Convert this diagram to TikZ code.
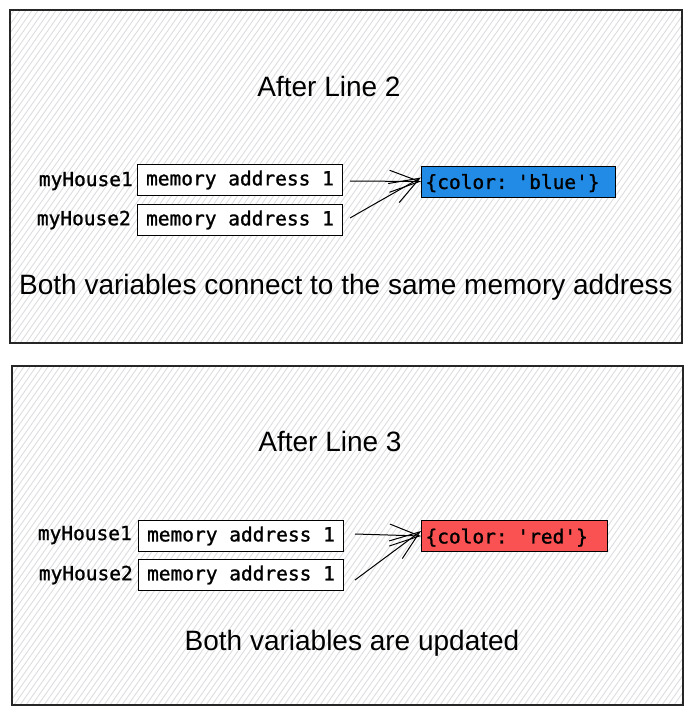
\documentclass[tikz,border=0pt]{standalone}
\usepackage{fontspec}
\setmainfont{Liberation Sans}
\newfontfamily\codefont{DejaVu Sans Mono}[FakeBold=1.2]
\usetikzlibrary{arrows.meta}
\definecolor{exblue}{HTML}{228BE6}
\definecolor{exred}{HTML}{FA5252}
\definecolor{hatch}{HTML}{DCDDE0}
\tikzset{
  panel/.style={draw=black!85, line width=1.2pt},
  membox/.style={draw=black, line width=1pt, fill=white, minimum width=205pt, minimum height=31pt, inner sep=0pt, font=\codefont\fontsize{19.5}{20}\selectfont},
  objbox/.style={draw=black, line width=1pt, minimum height=31pt, inner sep=0pt, font=\codefont\fontsize{19.5}{20}\selectfont, anchor=west, text depth=0pt},
  varlabel/.style={anchor=east, inner sep=0pt, font=\codefont\fontsize{19.5}{20}\selectfont},
  heading/.style={inner sep=0pt, font=\fontsize{28}{32}\selectfont},
  conn/.style={line width=1pt, -{Straight Barb[length=30pt, width=22pt, line width=1pt]}},
}
\begin{document}
\begin{tikzpicture}[x=1pt,y=-1pt]
\useasboundingbox (0,0) rectangle (693,712);
% hatched backgrounds
\foreach \xa/\ya/\xb/\yb in {10/10/682/343, 12/366/683/705}{
  \begin{scope}
    \clip (\xa,\ya) rectangle (\xb,\yb);
    \foreach \k in {-400,-394,...,720}{
      \draw[hatch, line width=0.9pt] (\k,\yb) -- ++(380,-540);
    }
  \end{scope}
}
\draw[panel] (10,10) rectangle (682,343);
\draw[panel] (12,366) rectangle (683,705);

% top panel
\node[heading] (t1) at (329,86) {After Line 2};
\node[membox] (m11) at (240,180) {memory address 1};
\node[membox] (m12) at (240,220) {memory address 1};
\node[varlabel] (v11) at (133,181) {myHouse1};
\node[varlabel] (v12) at (131,220) {myHouse2};
\node[objbox, fill=exblue, minimum width=194pt, text width=186pt, align=left] (o1) at (421,181.5) {\{color: 'blue'\}};
\coordinate (e11) at (350,181);
\coordinate (e12) at (350,218);
\draw[conn] (e11) -- (o1.west);
\draw[conn] (e12) -- ([yshift=4pt]o1.west);
\node[heading] (s1) at (346,287) {Both variables connect to the same memory address};

% bottom panel
\node[heading] (t2) at (330,441) {After Line 3};
\node[membox] (m21) at (241,536) {memory address 1};
\node[membox] (m22) at (241,575) {memory address 1};
\node[varlabel] (v21) at (132,535) {myHouse1};
\node[varlabel] (v22) at (133,575) {myHouse2};
\node[objbox, fill=exred, minimum width=186pt, text width=178pt, align=left] (o2) at (421,536) {\{color: 'red'\}};
\coordinate (e21) at (355,534);
\coordinate (e22) at (355,580);
\draw[conn] (e21) -- (o2.west);
\draw[conn] (e22) -- ([yshift=5pt]o2.west);
\node[heading] (s2) at (352,643) {Both variables are updated};
\end{tikzpicture}
\end{document}
